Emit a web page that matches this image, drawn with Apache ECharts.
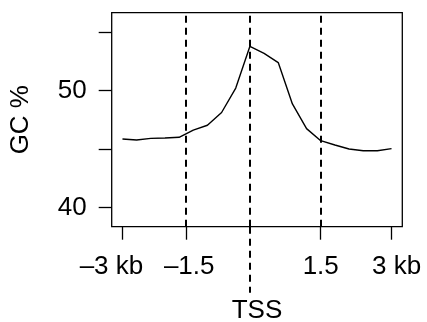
<!DOCTYPE html>
<html>
<head>
<meta charset="utf-8">
<script src="https://cdn.jsdelivr.net/npm/echarts@6/dist/echarts.min.js"></script>
<style>
  html, body { margin: 0; padding: 0; background: #fff; }
  #chart { width: 427px; height: 322px; }
</style>
</head>
<body>
<div id="chart"></div>
<script>
// bins along the window, -3 kb .. +3 kb around the TSS
const binIndex = [1, 2, 3, 4, 5, 6, 7, 8, 9, 10, 11, 12, 13, 14, 15, 16, 17, 18, 19, 20];
const gcPercent = [45.85, 45.77, 45.91, 45.94, 46.0, 46.62, 47.03, 48.12, 50.21, 53.78,
                   53.18, 52.39, 48.85, 46.74, 45.71, 45.34, 45.0, 44.85, 44.85, 45.03];
const xTickPos = [1, 5.5, 15, 20];
const xTickLabels = ['\u20133 kb', '\u20131.5', '1.5', '3 kb'];
const tssPos = 10;
const dashedPos = [5.5, 10, 15];
const yTicks = [40, 45, 50, 55];
const yLabels = [40, 50];

const font = '"Liberation Sans", Arial, Helvetica, sans-serif';
// small nudges so the end labels sit like the original
const labelPad = [[0, 22, 0, 0], [0, 0, 0, 6], [0, 0, 0, 0], [0, 0, 0, 10]];

const chart = echarts.init(document.getElementById('chart'), null, { renderer: 'canvas' });

const option = {
    backgroundColor: '#ffffff',
    animation: false,
    grid: {
        left: 111.7,
        right: 24.7,
        top: 12.7,
        bottom: 95.3,
        outerBoundsMode: 'none',
        containLabel: false,
        show: true,
        borderColor: '#000',
        borderWidth: 1.3,
        backgroundColor: 'transparent',
    },
    xAxis: [
        {
            type: 'value',
            min: 0.24,
            max: 20.76,
            axisLine: { show: false },
            splitLine: { show: false },
            axisTick: {
                show: true,
                length: 13,
                customValues: xTickPos,
                lineStyle: { color: '#000', width: 1.3 },
            },
            axisLabel: {
                customValues: xTickPos,
                margin: 27,
                color: '#000',
                fontFamily: font,
                fontSize: 26,
                formatter: (v) => {
                    const i = xTickPos.indexOf(v);
                    return i >= 0 ? '{l' + i + '|' + xTickLabels[i] + '}' : '';
                },
                rich: {
                    l0: { fontFamily: font, fontSize: 26, color: '#000', padding: labelPad[0] },
                    l1: { fontFamily: font, fontSize: 26, color: '#000', padding: labelPad[1] },
                    l2: { fontFamily: font, fontSize: 26, color: '#000', padding: labelPad[2] },
                    l3: { fontFamily: font, fontSize: 26, color: '#000', padding: labelPad[3] },
                },
            },
            name: 'TSS',
            nameLocation: 'middle',
            nameGap: 71,
            nameTextStyle: { color: '#000', fontFamily: font, fontSize: 26 },
        },
        {
            // dashed continuation of the TSS line below the box
            type: 'value',
            position: 'bottom',
            min: 0.24,
            max: 20.76,
            axisLine: { show: false },
            splitLine: { show: false },
            axisLabel: { show: false },
            axisTick: {
                show: true,
                length: 66,
                customValues: [tssPos],
                lineStyle: { color: '#000', width: 2, type: [7, 5] },
            },
        },
    ],
    yAxis: {
        type: 'value',
        min: 38.36,
        max: 56.65,
        axisLine: { show: false },
        splitLine: { show: false },
        axisTick: {
            show: true,
            length: 13,
            customValues: yTicks,
            lineStyle: { color: '#000', width: 1.3 },
        },
        axisLabel: {
            customValues: yLabels,
            margin: 25,
            color: '#000',
            fontFamily: font,
            fontSize: 26,
        },
        name: 'GC %',
        nameLocation: 'middle',
        nameGap: 78,
        nameRotate: 90,
        nameTextStyle: { color: '#000', fontFamily: font, fontSize: 26 },
    },
    series: [
        {
            type: 'line',
            data: binIndex.map((x, i) => [x, gcPercent[i]]),
            showSymbol: false,
            lineStyle: { color: '#000', width: 1.4 },
            markLine: {
                silent: true,
                symbol: ['none', 'none'],
                label: { show: false },
                lineStyle: { color: '#000', width: 2, type: [7, 5] },
                data: dashedPos.map((p) => ({ xAxis: p })),
            },
        },
    ],
};

chart.setOption(option);
</script>
</body>
</html>
